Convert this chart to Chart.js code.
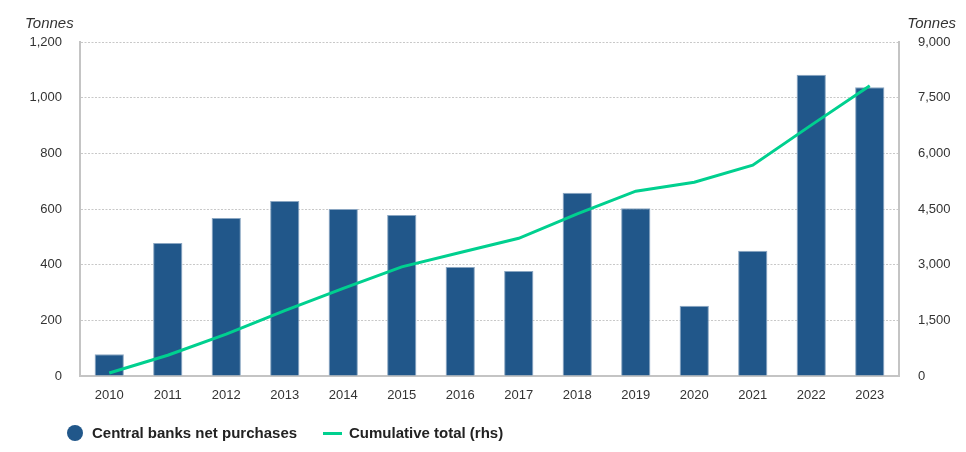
<!DOCTYPE html>
<html>
<head>
<meta charset="utf-8">
<script src="https://cdn.jsdelivr.net/npm/chart.js@4/dist/chart.umd.min.js"></script>
<style>
  html, body { margin: 0; padding: 0; background: #fff; }
  #wrap { width: 966px; height: 452px; position: relative; }
  #legend { position: absolute; left: 0; top: 0; width: 966px; height: 452px; pointer-events: none;
            font-family: Arial, "Liberation Sans", sans-serif; font-size: 15px; font-weight: bold; color: #222; }
  .lg-item { position: absolute; top: 424px; height: 18px; line-height: 18px; white-space: nowrap; }
  .lg-dot { position: absolute; width: 16px; height: 16px; border-radius: 50%; top: 1px; }
  .lg-line { position: absolute; width: 19px; height: 3px; top: 8px; }
</style>
</head>
<body>
<div id="wrap">
  <canvas id="c" width="966" height="452"></canvas>
  <div id="legend"></div>
</div>
<script>
// 数据
const years = ['2010', '2011', '2012', '2013', '2014', '2015', '2016', '2017', '2018', '2019', '2020', '2021', '2022', '2023'];
const netPurchases = [78, 478, 568, 629, 600, 578, 392, 377, 658, 603, 252, 450, 1082, 1037];
const cumulativeTotal = [80, 560, 1130, 1760, 2360, 2940, 3330, 3710, 4370, 4980, 5220, 5680, 6760, 7820];
const leftTicks = [0, 200, 400, 600, 800, 1000, 1200];
const rightTicks = [0, 1500, 3000, 4500, 6000, 7500, 9000];

const FONT = 'Arial, "Liberation Sans", sans-serif';
const BAR_COLOR = '#21578a';
const LINE_COLOR = '#00d08f';
const fmt = v => Number(v).toLocaleString('en-US');

// 轴标题 "Tonnes"
const unitTitles = {
  id: 'unitTitles',
  afterDraw(chart) {
    const ctx = chart.ctx;
    ctx.save();
    ctx.font = 'italic 15px ' + FONT;
    ctx.fillStyle = '#333';
    ctx.textBaseline = 'alphabetic';
    ctx.textAlign = 'left';
    ctx.fillText('Tonnes', 25, 28);
    ctx.textAlign = 'right';
    ctx.fillText('Tonnes', 956, 28);
    ctx.restore();
  }
};

const chart = new Chart(document.getElementById('c'), {
  type: 'bar',
  data: {
    labels: years,
    datasets: [
      {
        type: 'bar',
        label: 'Central banks net purchases',
        data: netPurchases,
        backgroundColor: BAR_COLOR,
        borderColor: '#8aa6c2',
        borderWidth: 1,
        barPercentage: 0.5,
        categoryPercentage: 1,
        yAxisID: 'y',
        order: 1
      },
      {
        type: 'line',
        label: 'Cumulative total (rhs)',
        data: cumulativeTotal,
        borderColor: LINE_COLOR,
        backgroundColor: LINE_COLOR,
        borderWidth: 3,
        pointRadius: 0,
        tension: 0,
        yAxisID: 'y1',
        order: 0
      }
    ]
  },
  options: {
    responsive: false,
    animation: false,
    layout: { padding: { top: 42, left: 0, right: 0, bottom: 46 } },
    plugins: {
      tooltip: { enabled: false },
      legend: { display: false }
    },
    scales: {
      x: {
        grid: { display: false, drawTicks: false },
        border: { color: '#c4c4c4', width: 2 },
        ticks: { color: '#333', font: { family: FONT, size: 13 }, padding: 12 },
        afterFit(scale) { scale.height = 30; }
      },
      y: {
        position: 'left',
        min: 0,
        max: 1200,
        afterBuildTicks(scale) { scale.ticks = leftTicks.map(v => ({ value: v })); },
        grid: { color: '#c8c8c8', drawTicks: false },
        border: { color: '#c4c4c4', width: 2, dash: [2, 1.5] },
        ticks: { color: '#333', font: { family: FONT, size: 13 }, padding: 18, callback: fmt },
        afterFit(scale) { scale.width = 80; }
      },
      y1: {
        position: 'right',
        min: 0,
        max: 9000,
        afterBuildTicks(scale) { scale.ticks = rightTicks.map(v => ({ value: v })); },
        grid: { display: false, drawTicks: false },
        border: { color: '#c4c4c4', width: 2 },
        ticks: { color: '#333', font: { family: FONT, size: 13 }, padding: 19, callback: fmt },
        afterFit(scale) { scale.width = 67; }
      }
    }
  },
  plugins: [unitTitles]
});

// 图例 (HTML)
const legend = document.getElementById('legend');
const items = [
  { text: chart.data.datasets[0].label, kind: 'dot', color: BAR_COLOR, x: 67 },
  { text: chart.data.datasets[1].label, kind: 'line', color: LINE_COLOR, x: 323 }
];
items.forEach(it => {
  const el = document.createElement('div');
  el.className = 'lg-item';
  el.style.left = it.x + 'px';
  const mk = document.createElement('span');
  mk.className = it.kind === 'dot' ? 'lg-dot' : 'lg-line';
  mk.style.background = it.color;
  mk.style.left = '0px';
  el.appendChild(mk);
  const tx = document.createElement('span');
  tx.textContent = it.text;
  tx.style.marginLeft = (it.kind === 'dot' ? 25 : 26) + 'px';
  el.appendChild(tx);
  legend.appendChild(el);
});
</script>
</body>
</html>
